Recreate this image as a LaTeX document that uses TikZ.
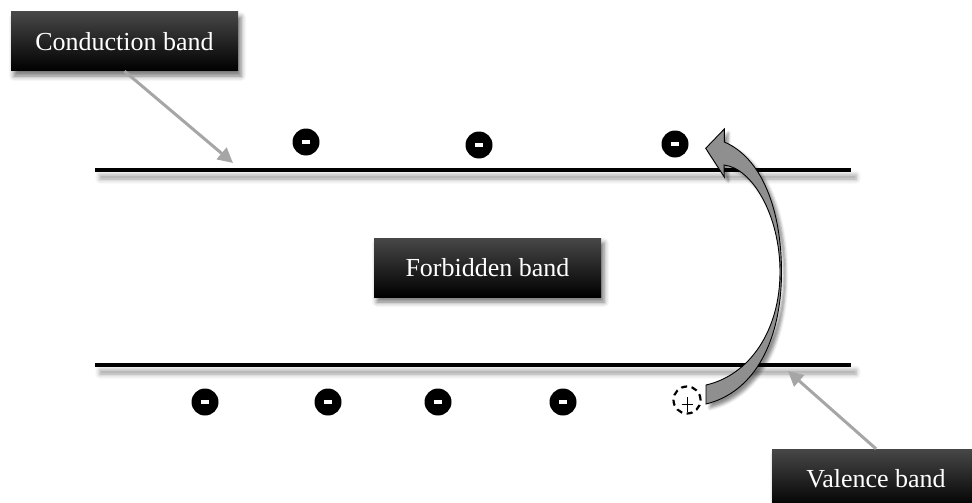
\documentclass[tikz,border=0pt]{standalone}
\usepackage{fontspec}
\setmainfont{Liberation Serif}
\usetikzlibrary{arrows.meta,shadows.blur}

\begin{document}
\begin{tikzpicture}[x=1pt,y=-1pt,
  labelbox/.style={rectangle, text=white, inner sep=0pt,
    font=\fontsize{26}{30}\selectfont, minimum height=59pt,
    top color=black!72, middle color=black, bottom color=black,
    blur shadow={shadow xshift=3pt, shadow yshift=-5pt,
      shadow blur radius=5pt, shadow opacity=55}},
  bandline/.style={fill=black,
    blur shadow={shadow xshift=5pt, shadow yshift=-7pt,
      shadow blur radius=5pt, shadow opacity=40}},
  electron/.style={circle, fill=black, minimum size=27pt, inner sep=0pt,
    text=white, font=\fontsize{4}{4}\selectfont},
  holemark/.style={circle, draw=black, line width=2.2pt,
    dash pattern=on 6pt off 4.5pt, minimum size=27pt, inner sep=0pt},
  pointer/.style={draw=black!35, line width=3pt,
    -{Triangle[length=15pt,width=15pt]}},
  jump/.style={fill=black!44, draw=black, line width=0.9pt, line join=miter,
    blur shadow={shadow xshift=4pt, shadow yshift=-4pt,
      shadow blur radius=3pt, shadow opacity=45}}]

\useasboundingbox (0,0) rectangle (972,503);

% band edges
\fill[bandline] (95,168.2) rectangle (851,172);
\fill[bandline] (95,363.2) rectangle (851,367);

% labels
\node[labelbox, minimum width=227pt] (cb) at (124.5,41.5) {Conduction band};
\node[labelbox, minimum width=227pt] (fb) at (487.5,267.5) {Forbidden band};
\node[labelbox, minimum width=208pt] (vb) at (876,478.5) {Valence band};

% electrons in the conduction band
\foreach \n/\x/\y in {c1/306/142, c2/479/145, c3/675/144}
  \node[electron] (\n) at (\x,\y) {\rule{8pt}{4pt}};
% electrons in the valence band
\foreach \n/\x in {v1/205, v2/328, v3/438, v4/563}
  \node[electron] (\n) at (\x,402) {\rule{8pt}{4pt}};

% hole left behind
\node[holemark] (hole) at (687,400) {};
\draw[line width=0.8pt] ([shift={(-5.5,4)}]hole.center) -- ++(11,0);
\draw[line width=0.8pt] ([shift={(0,-3)}]hole.center) -- ++(0,15);

% pointers to the band edges
\coordinate (cbtip) at (233,163);
\coordinate (vbtip) at (788,371);
\draw[pointer] (cb.south) -- (cbtip);
\draw[pointer] (vb.north) -- (vbtip);

% curved arrow: electron excited from valence to conduction band
\path[jump] (706,404) -- (706,385)
  .. controls (750,375) and (780,330) .. (780,272)
  .. controls (780,215) and (752,168) .. (724,165)
  -- (724.3,177) -- (705.7,148.3) -- (724.3,129) -- (724.3,142)
  .. controls (762,158) and (781.5,210) .. (781.5,272)
  .. controls (781.5,340) and (755,392) .. (706,404) -- cycle;

\end{tikzpicture}
\end{document}
